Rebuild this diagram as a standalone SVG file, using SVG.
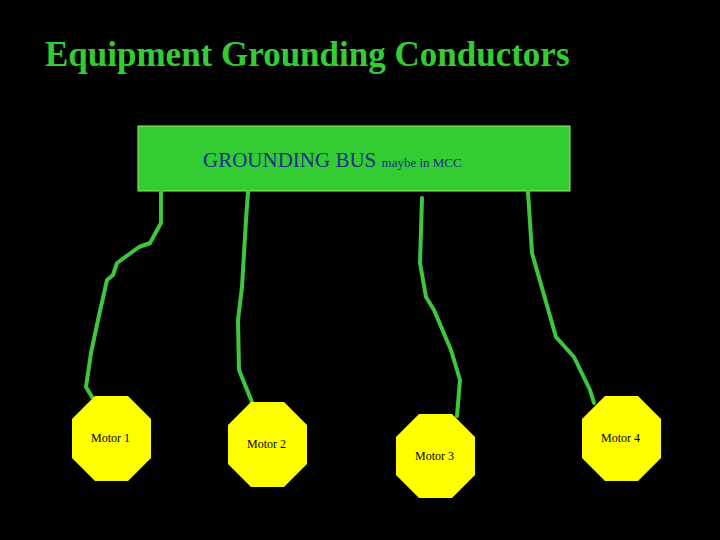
<svg xmlns="http://www.w3.org/2000/svg" width="720" height="540" viewBox="0 0 720 540">
<style>
.w{fill:none;stroke:#3fc63f;stroke-width:4;stroke-linejoin:round;stroke-linecap:round}
.oct{fill:#ffff00}
.lbl{font-family:"Liberation Serif",serif;font-size:12px;fill:#000}
</style>
<rect width="720" height="540" fill="#000"/>
<text x="45" y="66" font-family="Liberation Serif,serif" font-weight="bold" font-size="35" fill="#33cc33">Equipment Grounding Conductors</text>
<g id="bus">
<rect x="138" y="126" width="432" height="65" fill="#33cc33" stroke="#99ee66" stroke-width="1"/>
<text x="203" y="167" font-family="Liberation Serif,serif" fill="#1a2f8a"><tspan font-size="21">GROUNDING BUS </tspan><tspan font-size="13">maybe in MCC</tspan></text>
</g>
<g id="connectors">
<polyline class="w" points="161,192 161,223 150,243 139,247 117,263 113,275 107,280 98,320 91,353 86,387 92,397"/>
<polyline class="w" points="248,192 246,220 242,287 238,320 239,370 252,402"/>
<polyline class="w" points="422,198 420,263 426,297 434,310 451,350 460,380 457,416"/>
<polyline class="w" points="528,192 532,253 556,337 574,357 590,390 594,403"/>
</g>
<g id="motor1"><polygon class="oct" points="95,396 128,396 151,419 151,458 128,481 95,481 72,458 72,419"/><text class="lbl" x="91" y="442">Motor 1</text></g>
<g id="motor2"><polygon class="oct" points="251,402 284,402 307,425 307,464 284,487 251,487 228,464 228,425"/><text class="lbl" x="247" y="448">Motor 2</text></g>
<g id="motor3"><polygon class="oct" points="419,414 452,414 475,437 475,475 452,498 419,498 396,475 396,437"/><text class="lbl" x="415" y="460">Motor 3</text></g>
<g id="motor4"><polygon class="oct" points="605,396 638,396 661,419 661,458 638,481 605,481 582,458 582,419"/><text class="lbl" x="601" y="442">Motor 4</text></g>
</svg>
